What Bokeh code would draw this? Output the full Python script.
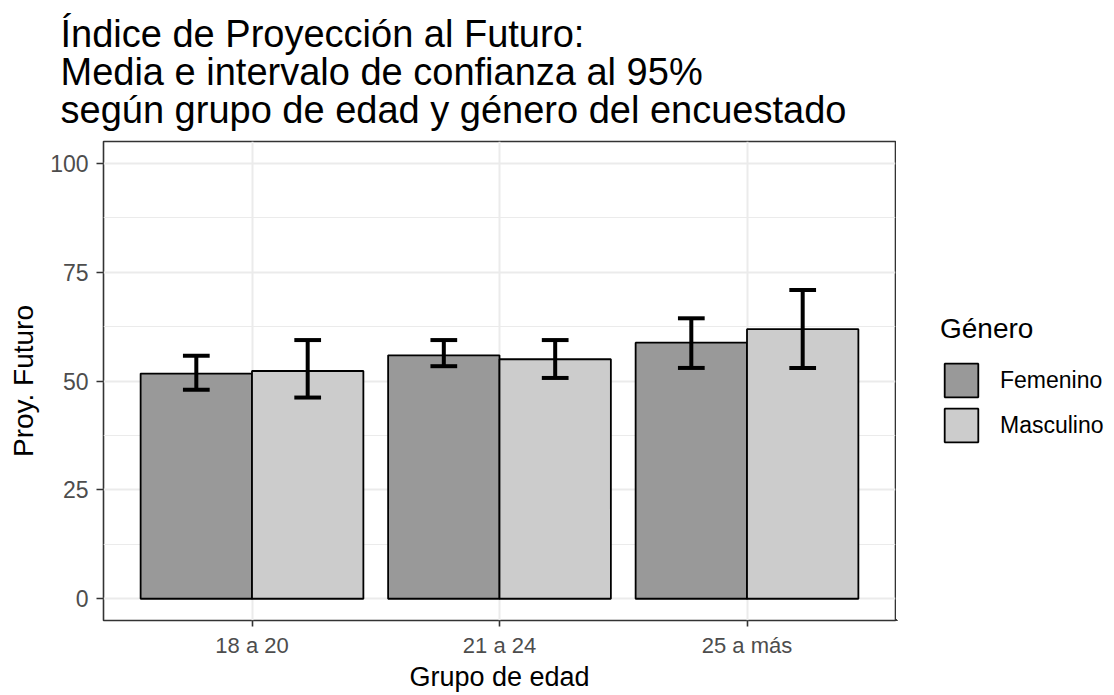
from bokeh.plotting import figure
from bokeh.models import (Range1d, FixedTicker, Legend, LegendItem, Title, ColumnDataSource)
from bokeh.layouts import row
from bokeh.embed import file_html
from bokeh.resources import INLINE

# ---- data ----
ages = ["18 a 20", "21 a 24", "25 a más"]
genders = ["Femenino", "Masculino"]
fem_mean = [51.7, 55.9, 58.8]
fem_low = [48.0, 53.4, 53.0]
fem_high = [55.8, 59.4, 64.4]
masc_mean = [52.3, 55.0, 61.9]
masc_low = [46.2, 50.7, 53.0]
masc_high = [59.4, 59.4, 70.9]
y_ticks = [0, 25, 50, 75, 100]
y_minor = [12.5, 37.5, 62.5, 87.5]

FONT = "Liberation Sans"
fills = ["#999999", "#CCCCCC"]
dodge = 0.225
bar_w = 0.45
cap_half = 0.054

pos = list(range(1, len(ages) + 1))

p = figure(width=896, height=695, output_backend="svg", toolbar_location=None,
           x_range=Range1d(0.4, 3.6), y_range=Range1d(-5, 105),
           min_border_left=103, min_border_right=1, min_border_top=140, min_border_bottom=75)

p.background_fill_color = "white"
p.border_fill_color = "white"
p.outline_line_color = "#333333"
p.outline_line_width = 1.6

# title
p.title = Title(text="Índice de Proyección al Futuro:\nMedia e intervalo de confianza al 95%\nsegún grupo de edad y género del encuestado",
                align="left", offset=-43, text_font=FONT, text_font_size="38px",
                text_font_style="normal", text_color="black", text_line_height=0.9, standoff=21)

# grids
p.xgrid.grid_line_color = "#EBEBEB"
p.xgrid.grid_line_width = 2
p.ygrid.grid_line_color = "#EBEBEB"
p.ygrid.grid_line_width = 2
p.ygrid.minor_grid_line_color = "#EBEBEB"
p.ygrid.minor_grid_line_width = 1.2

# axes
p.xaxis.ticker = FixedTicker(ticks=pos)
p.xaxis.major_label_overrides = {i: a for i, a in zip(pos, ages)}
p.yaxis.ticker = FixedTicker(ticks=y_ticks, minor_ticks=y_minor)
for ax in (p.xaxis[0], p.yaxis[0]):
    ax.axis_line_color = None
    ax.major_tick_line_color = "#333333"
    ax.major_tick_line_width = 1.6
    ax.major_tick_in = 0
    ax.minor_tick_line_color = None
    ax.major_label_text_font = FONT
    ax.major_label_text_color = "#4D4D4D"
    ax.axis_label_text_font = FONT
    ax.axis_label_text_font_style = "normal"
    ax.axis_label_text_color = "black"

p.xaxis.major_tick_out = 6
p.xaxis.major_label_standoff = 6
p.xaxis.major_label_text_font_size = "22px"
p.xaxis.axis_label = "Grupo de edad"
p.xaxis.axis_label_text_font_size = "27px"
p.xaxis.axis_label_standoff = 1

p.yaxis.major_tick_out = 7
p.yaxis.major_label_standoff = 8
p.yaxis.major_label_text_font_size = "23px"
p.yaxis.axis_label = "Proy. Futuro"
p.yaxis.axis_label_text_font_size = "28px"
p.yaxis.axis_label_standoff = 8

# bars
src_f = ColumnDataSource(dict(x=[i - dodge for i in pos], top=fem_mean, lo=fem_low, hi=fem_high,
                              c0=[i - dodge - cap_half for i in pos], c1=[i - dodge + cap_half for i in pos]))
src_m = ColumnDataSource(dict(x=[i + dodge for i in pos], top=masc_mean, lo=masc_low, hi=masc_high,
                              c0=[i + dodge - cap_half for i in pos], c1=[i + dodge + cap_half for i in pos]))

rf = p.vbar(x="x", top="top", bottom=0, width=bar_w, source=src_f,
            fill_color=fills[0], line_color="black", line_width=1.8)
rm = p.vbar(x="x", top="top", bottom=0, width=bar_w, source=src_m,
            fill_color=fills[1], line_color="black", line_width=1.8)

for src in (src_f, src_m):
    p.segment(x0="x", y0="lo", x1="x", y1="hi", source=src, line_color="black", line_width=4)
    p.segment(x0="c0", y0="hi", x1="c1", y1="hi", source=src, line_color="black", line_width=4)
    p.segment(x0="c0", y0="lo", x1="c1", y1="lo", source=src, line_color="black", line_width=4)

# ---- legend panel (separate figure to the right of the plot) ----
# its ranges lie away from the data, so only the legend keys show there
pl = figure(width=218, height=695, output_backend="svg", toolbar_location=None,
            x_range=Range1d(100, 101), y_range=Range1d(100, 101),
            x_axis_location=None, y_axis_location=None,
            min_border=0, min_border_left=0, min_border_right=0, min_border_top=0, min_border_bottom=0)
pl.outline_line_color = None
pl.grid.visible = False
pl.background_fill_color = "white"
pl.border_fill_color = "white"

lf = pl.vbar(x="x", top="top", bottom=0, width=bar_w, source=src_f,
             fill_color=fills[0], line_color="black", line_width=1.8)
lm = pl.vbar(x="x", top="top", bottom=0, width=bar_w, source=src_m,
             fill_color=fills[1], line_color="black", line_width=1.8)

legend = Legend(items=[LegendItem(label=genders[0], renderers=[lf]),
                       LegendItem(label=genders[1], renderers=[lm])],
                location=(44, 174), title="Género",
                title_text_font=FONT, title_text_font_size="28px", title_text_font_style="normal",
                title_text_color="black", title_standoff=14,
                label_text_font=FONT, label_text_font_size="23px", label_text_color="black",
                glyph_width=42, glyph_height=42, label_standoff=18, spacing=3,
                padding=0, margin=0, border_line_color=None, background_fill_alpha=0)
pl.add_layout(legend)

layout = row(p, pl, spacing=0)

open("out.html", "w").write(file_html(layout, INLINE))
